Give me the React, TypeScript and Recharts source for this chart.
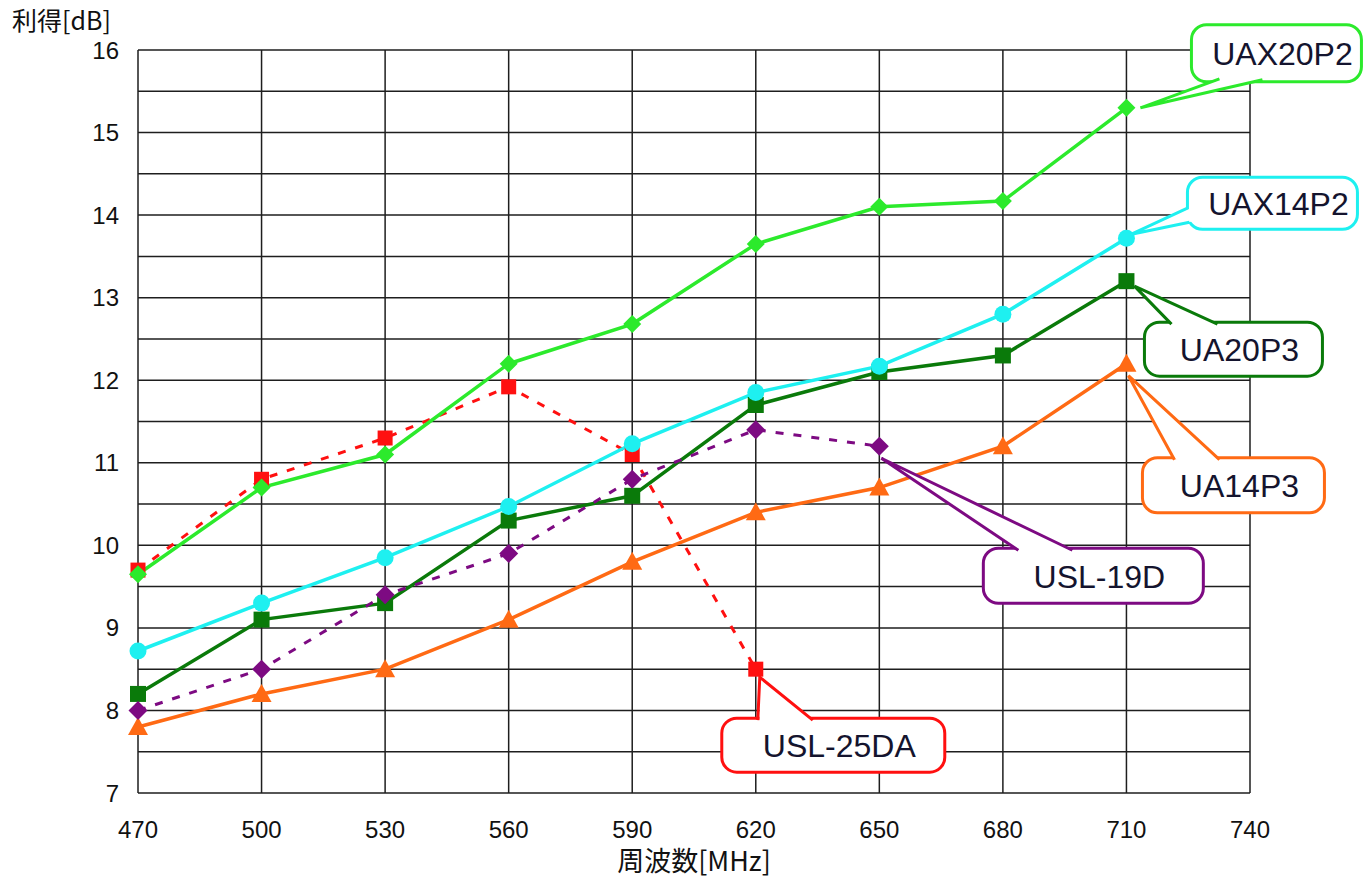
import React from 'react'
import { LineChart, Line, XAxis, YAxis, CartesianGrid, ReferenceDot } from 'recharts'

const freqs = [470, 500, 530, 560, 590, 620, 650, 680, 710]
const xTicks = [470, 500, 530, 560, 590, 620, 650, 680, 710, 740]
const yTicks = [7, 7.5, 8, 8.5, 9, 9.5, 10, 10.5, 11, 11.5, 12, 12.5, 13, 13.5, 14, 14.5, 15, 15.5, 16]

const uax20p2 = [9.65, 10.7, 11.1, 12.2, 12.68, 13.65, 14.1, 14.17, 15.3]
const uax14p2 = [8.72, 9.3, 9.85, 10.47, 11.23, 11.85, 12.17, 12.8, 13.72]
const ua20p3 = [8.2, 9.1, 9.3, 10.3, 10.6, 11.7, 12.1, 12.3, 13.2]
const ua14p3 = [7.8, 8.2, 8.5, 9.1, 9.8, 10.4, 10.7, 11.2, 12.2]
const usl19d = [8.0, 8.5, 9.4, 9.9, 10.8, 11.4, 11.2, null, null]
const usl25da = [9.7, 10.8, 11.3, 11.92, 11.1, 8.5, null, null, null]

const C_LIME = '#2cea2c'
const C_CYAN = '#1ef0f0'
const C_GREEN = '#0a7a0a'
const C_ORANGE = '#ff6a14'
const C_PURPLE = '#7d0a82'
const C_RED = '#ff1010'

const data = freqs.map((f, i) => ({
  f,
  uax20p2: uax20p2[i],
  uax14p2: uax14p2[i],
  ua20p3: ua20p3[i],
  ua14p3: ua14p3[i],
  usl19d: usl19d[i],
  usl25da: usl25da[i],
}))

const FONT = '"Liberation Sans", Arial, sans-serif'

// marker shapes
const marker = (kind: string, color: string, size: number) => (props: any) => {
  const { cx, cy, value, index } = props
  if (value == null || cx == null || cy == null) return <g key={index} />
  const s = size / 2
  if (kind === 'diamond')
    return <polygon key={index} points={`${cx},${cy - s} ${cx + s},${cy} ${cx},${cy + s} ${cx - s},${cy}`} fill={color} />
  if (kind === 'square')
    return <rect key={index} x={cx - s} y={cy - s} width={size} height={size} fill={color} />
  if (kind === 'triangle')
    return <polygon key={index} points={`${cx},${cy - s} ${cx + s},${cy + s * 0.8} ${cx - s},${cy + s * 0.8}`} fill={color} />
  return <circle key={index} cx={cx} cy={cy} r={s} fill={color} />
}

// callout balloon: box offset from the point, tail base points and tip (all relative to the point)
const callout = (
  text: string,
  color: string,
  box: [number, number, number, number],
  base: [number, number, number, number],
  tip: [number, number]
) => (props: any) => {
  const { cx, cy } = props
  if (cx == null || cy == null) return <g />
  const [bx, by, bw, bh] = box
  const x = cx + bx
  const y = cy + by
  const tx = cx + tip[0]
  const ty = cy + tip[1]
  const b1x = cx + base[0]
  const b1y = cy + base[1]
  const b2x = cx + base[2]
  const b2y = cy + base[3]
  const mx = (b1x + b2x) / 2
  const my = (b1y + b2y) / 2
  const cover = `${b1x + (mx - b1x) * 0.06},${b1y + (my - b1y) * 0.06} ${b2x + (mx - b2x) * 0.06},${b2y + (my - b2y) * 0.06} ${tx},${ty}`
  const inward = (px: number, py: number) => {
    const dx = x + bw / 2 - px
    const dy = y + bh / 2 - py
    const d = Math.hypot(dx, dy) || 1
    return `${px + (dx / d) * 4},${py + (dy / d) * 4}`
  }
  return (
    <g>
      <rect x={x} y={y} width={bw} height={bh} rx={15} ry={15} fill="#fff" stroke={color} strokeWidth={3} />
      <polygon points={`${inward(b1x, b1y)} ${inward(b2x, b2y)} ${tx},${ty}`} fill="#fff" stroke="none" />
      <polygon points={cover} fill="#fff" stroke="none" />
      <polyline points={`${b1x},${b1y} ${tx},${ty} ${b2x},${b2y}`} fill="none" stroke={color} strokeWidth={3} strokeLinejoin="miter" />
      <text x={x + bw / 2 + 6} y={y + bh / 2 + 12} textAnchor="middle" fontFamily={FONT} fontSize={32} fill="#14142e">
        {text}
      </text>
    </g>
  )
}

export default function App() {
  return (
    <div style={{ position: 'absolute', left: 0, top: 0, width: 1365, height: 883, background: '#fff' }}>
      <LineChart width={1365} height={883} data={data} margin={{ top: 50, right: 115, bottom: 50, left: 38 }}>
        <CartesianGrid stroke="#1e1e1e" strokeWidth={1.5} horizontalValues={yTicks} verticalValues={xTicks} />
        <XAxis
          dataKey="f"
          type="number"
          domain={[470, 740]}
          ticks={xTicks}
          axisLine={false}
          tickLine={false}
          height={40}
          tickMargin={22}
          tick={{ fontFamily: FONT, fontSize: 24, fill: '#111' }}
        />
        <YAxis
          type="number"
          domain={[7, 16]}
          ticks={yTicks}
          interval={0}
          width={100}
          axisLine={false}
          tickLine={false}
          tickSize={10}
          tickMargin={9}
          tickFormatter={(v: number) => (Number.isInteger(v) ? String(v) : '')}
          tick={{ fontFamily: FONT, fontSize: 24, fill: '#111' }}
        />
        <Line dataKey="usl25da" stroke={C_RED} strokeWidth={3} strokeDasharray="8 10" dot={marker('square', C_RED, 15)} activeDot={false} isAnimationActive={false} />
        <Line dataKey="ua14p3" stroke={C_ORANGE} strokeWidth={3.5} dot={marker('triangle', C_ORANGE, 20)} activeDot={false} isAnimationActive={false} />
        <Line dataKey="ua20p3" stroke={C_GREEN} strokeWidth={3.5} dot={marker('square', C_GREEN, 16)} activeDot={false} isAnimationActive={false} />
        <Line dataKey="usl19d" stroke={C_PURPLE} strokeWidth={3} strokeDasharray="8 10" dot={marker('diamond', C_PURPLE, 19)} activeDot={false} isAnimationActive={false} />
        <Line dataKey="uax14p2" stroke={C_CYAN} strokeWidth={3.5} dot={marker('circle', C_CYAN, 17)} activeDot={false} isAnimationActive={false} />
        <Line dataKey="uax20p2" stroke={C_LIME} strokeWidth={3.5} dot={marker('diamond', C_LIME, 18)} activeDot={false} isAnimationActive={false} />

        <ReferenceDot x={freqs[8]} y={uax20p2[8]} shape={callout('UAX20P2', C_LIME, [65, -83, 170, 57], [93, -29, 136, -28], [14, 0])} />
        <ReferenceDot x={freqs[8]} y={uax14p2[8]} shape={callout('UAX14P2', C_CYAN, [61, -61, 170, 52], [61, -30, 63, -16], [5, -4])} />
        <ReferenceDot x={freqs[8]} y={ua20p3[8]} shape={callout('UA20P3', C_GREEN, [18, 41, 178, 54], [45, 43, 91, 43], [8, 5])} />
        <ReferenceDot x={freqs[8]} y={ua14p3[8]} shape={callout('UA14P3', C_ORANGE, [16, 94, 182, 55], [48, 96, 93, 96], [2, 12])} />
        <ReferenceDot x={freqs[6]} y={usl19d[6] as number} shape={callout('USL-19D', C_PURPLE, [104, 102, 220, 55], [139, 104, 193, 104], [2, 12])} />
        <ReferenceDot x={freqs[5]} y={usl25da[5] as number} shape={callout('USL-25DA', C_RED, [-34, 49, 223, 54], [2, 51, 57, 51], [4, 8])} />
      </LineChart>
      <div style={{ position: 'absolute', left: 12, top: 3, fontFamily: '"Noto Sans CJK JP", sans-serif', fontSize: 25, color: '#111', lineHeight: '32px' }}>
        利得[dB]
      </div>
      <div style={{ position: 'absolute', left: 0, width: 1388, top: 842, textAlign: 'center', fontFamily: '"Noto Sans CJK JP", sans-serif', fontSize: 27, color: '#111', lineHeight: '36px' }}>
        周波数[MHz]
      </div>
    </div>
  )
}
